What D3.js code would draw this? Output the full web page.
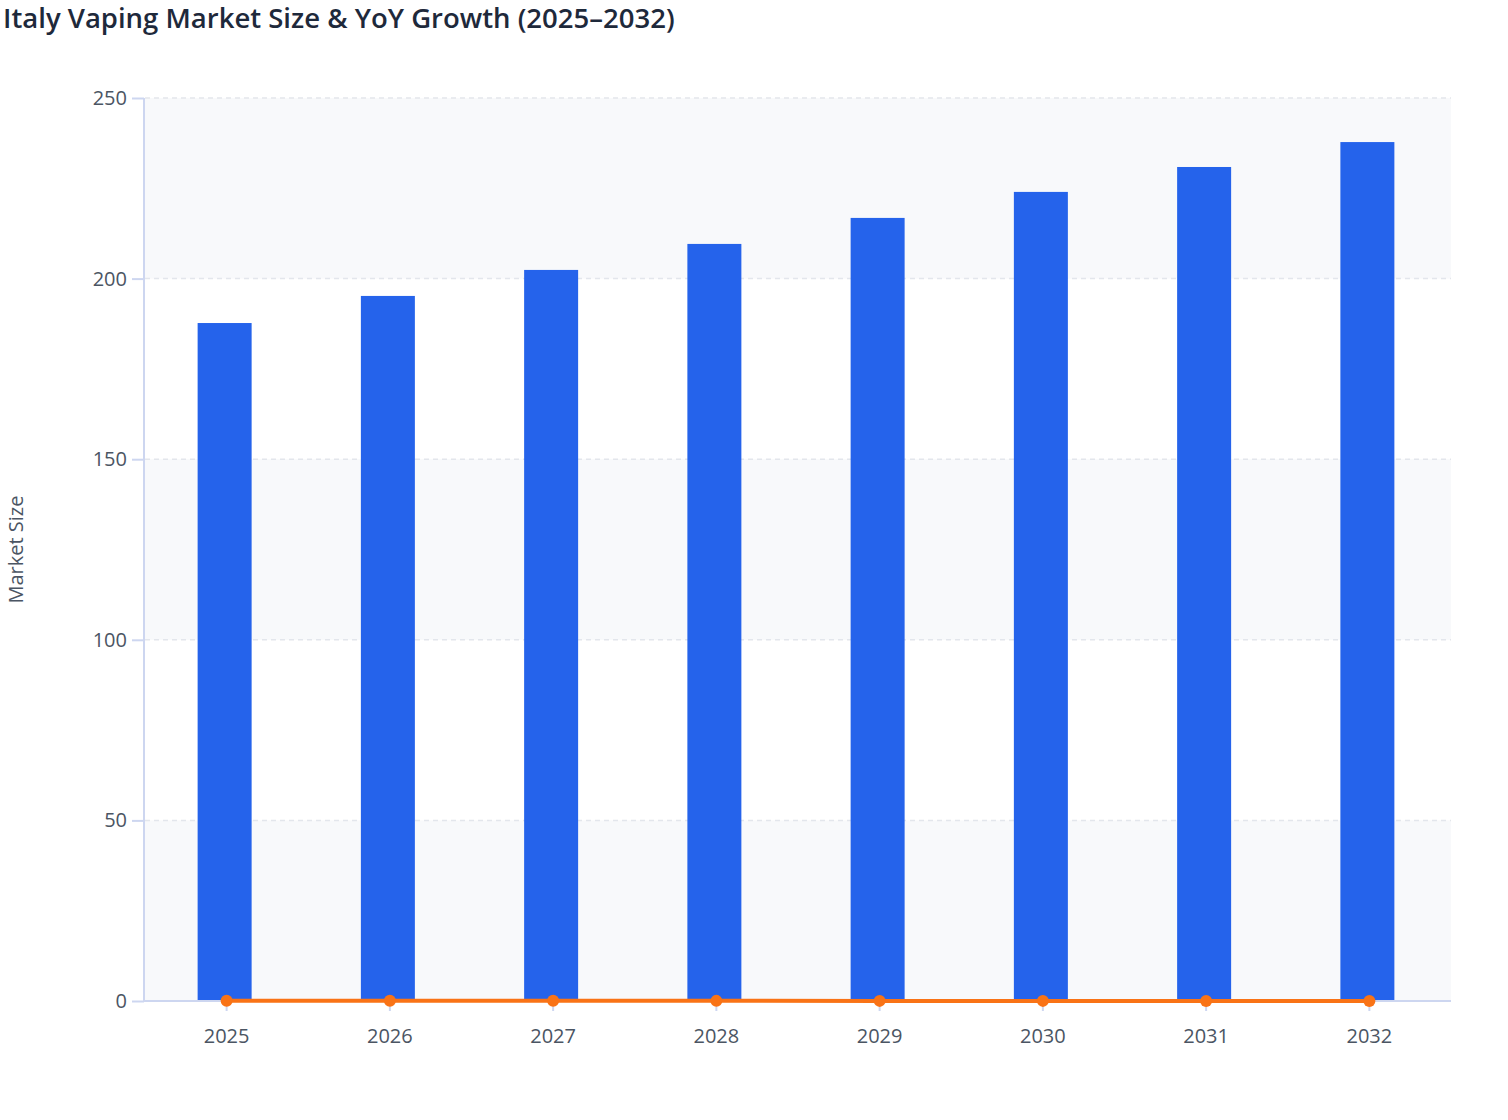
<!DOCTYPE html>
<html>
<head>
<meta charset="utf-8">
<script src="https://cdn.jsdelivr.net/npm/d3@7"></script>
<style>
  body { margin: 0; background: #fff; font-family: "Open Sans", "Noto Sans", sans-serif; }
  #graph { width: 1508px; height: 1120px; }
</style>
</head>
<body>
<div id="graph"></div>
<script>
/* chart data */
const years = ["2025", "2026", "2027", "2028", "2029", "2030", "2031", "2032"];
const marketSize = [187.7, 195.2, 202.4, 209.6, 216.8, 224.0, 230.9, 237.8];
const yoyGrowth = [0.041, 0.040, 0.037, 0.036, 0.034, 0.033, 0.031, 0.030];
const yTicks = [0, 50, 100, 150, 200, 250];

window.addEventListener("DOMContentLoaded", main)

function main() {
    const W = 1508, H = 1120;
    const left = 145, right = 1451, top = 98, bottom = 1001;
    const barColor = "#2563eb";
    const lineColor = "#f97316";
    const axisColor = "#cdd6f0";
    const textColor = "#4b5563";

    const svg = d3.select("#graph").append("svg").attr("width", W).attr("height", H)

    /* Title */
    svg.append("text")
        .attr("x", 3)
        .attr("y", 28)
        .style("font-size", "27.5px")
        .style("font-weight", "600")
        .style("fill", "#1e293b")
        .text("Italy Vaping Market Size & YoY Growth (2025–2032)");

    /* Scales */
    const xScale = d3.scaleBand().domain(years).range([left, right]);
    const yScale = d3.scaleLinear().domain([0, 250]).range([bottom, top]);

    /* alternating bands */
    const bands = [[0, 50], [100, 150], [200, 250]];
    svg.append("g").selectAll("rect")
        .data(bands)
        .enter()
        .append("rect")
        .attr("x", left)
        .attr("width", right - left)
        .attr("y", d => yScale(d[1]))
        .attr("height", d => yScale(d[0]) - yScale(d[1]))
        .attr("fill", "#f8f9fb");

    /* grid lines */
    svg.append("g").selectAll("line")
        .data(yTicks.filter(d => d > 0))
        .enter()
        .append("line")
        .attr("x1", left)
        .attr("x2", right)
        .attr("y1", d => yScale(d))
        .attr("y2", d => yScale(d))
        .attr("stroke", "#e3e6ec")
        .attr("stroke-width", 1.5)
        .attr("stroke-dasharray", "5,4");

    /* Bars */
    const barW = 54;
    svg.append("g").selectAll("rect")
        .data(marketSize)
        .enter()
        .append("rect")
        .attr("x", (d, i) => xScale(years[i]) + xScale.bandwidth() / 2 - 2 - barW / 2)
        .attr("width", barW)
        .attr("y", d => yScale(d))
        .attr("height", d => bottom - yScale(d))
        .attr("fill", barColor);

    /* Y axis */
    const yAxis = d3.axisLeft(yScale).tickValues(yTicks).tickSize(12).tickPadding(5);
    const gy = svg.append("g")
        .attr("transform", "translate(" + (left - 1) + ",0)")
        .call(yAxis);
    gy.select(".domain").attr("stroke", axisColor).attr("stroke-width", 2).attr("d", "M0," + top + "V" + bottom);
    gy.selectAll(".tick line").attr("stroke", axisColor).attr("stroke-width", 2);
    gy.selectAll(".tick text")
        .style("font-family", "'Open Sans', 'Noto Sans', sans-serif")
        .style("font-size", "20px").style("fill", textColor);

    /* X axis */
    const xAxis = d3.axisBottom(xScale).tickSize(10).tickPadding(18);
    const gx = svg.append("g")
        .attr("transform", "translate(0," + bottom + ")")
        .call(xAxis);
    gx.select(".domain").attr("stroke", axisColor).attr("stroke-width", 2).attr("d", "M" + (left - 1) + ",0H" + right);
    gx.selectAll(".tick line").attr("stroke", axisColor).attr("stroke-width", 2);
    gx.selectAll(".tick text")
        .style("font-family", "'Open Sans', 'Noto Sans', sans-serif")
        .style("font-size", "20px").style("fill", textColor);

    /* Y axis label */
    svg.append("text")
        .attr("transform", "translate(23," + ((top + bottom) / 2) + ") rotate(-90)")
        .style("text-anchor", "middle")
        .style("font-size", "20px")
        .style("fill", textColor)
        .text("Market Size");

    /* YoY growth line */
    const line = d3.line()
        .x((d, i) => xScale(years[i]) + xScale.bandwidth() / 2)
        .y(d => yScale(d));

    svg.append("path")
        .datum(yoyGrowth)
        .attr("d", line)
        .attr("fill", "none")
        .attr("stroke", lineColor)
        .attr("stroke-width", 4);

    svg.append("g").selectAll("circle")
        .data(yoyGrowth)
        .enter()
        .append("circle")
        .attr("cx", (d, i) => xScale(years[i]) + xScale.bandwidth() / 2)
        .attr("cy", d => yScale(d))
        .attr("r", 6)
        .attr("fill", lineColor);
}
</script>
</body>
</html>
